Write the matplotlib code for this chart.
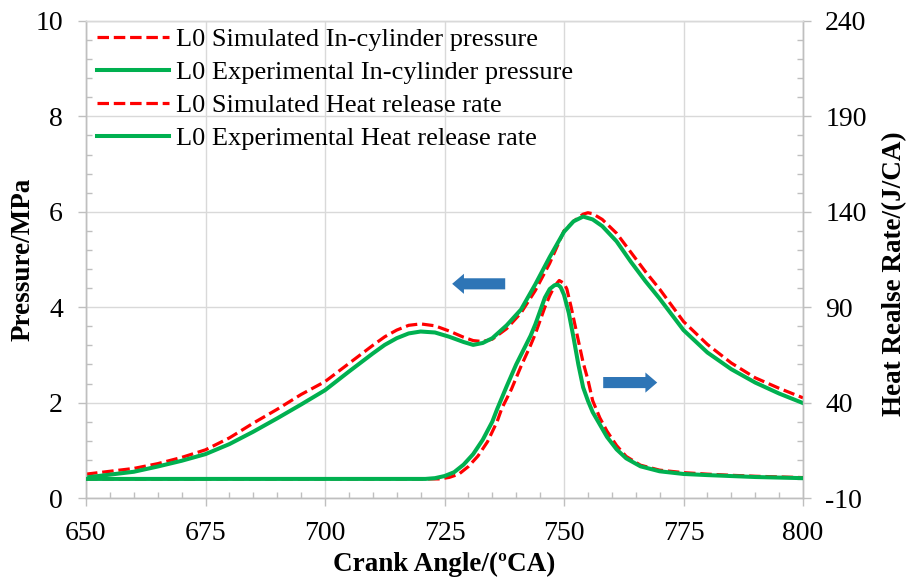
import matplotlib
matplotlib.use("Agg")
import matplotlib.pyplot as plt
from matplotlib.ticker import MultipleLocator, FixedLocator
from matplotlib.patches import FancyArrowPatch
from matplotlib.lines import Line2D

plt.rcParams['font.family'] = ['Liberation Serif', 'DejaVu Serif']
plt.rcParams['axes.unicode_minus'] = False

# ---------------- data ----------------
ca_p_exp = [650, 655, 660, 665, 670, 675, 680, 685, 690, 695, 700, 705, 710, 712.5, 715, 717.5, 720,
            723, 726, 729, 731, 733, 735, 738, 741, 744, 747, 750, 752, 754, 756, 758,
            761, 764, 767, 770, 775, 780, 785, 790, 795, 800]
p_exp = [0.43, 0.49, 0.55, 0.66, 0.78, 0.92, 1.13, 1.39, 1.67, 1.96, 2.26, 2.65, 3.03, 3.21, 3.35, 3.45, 3.49,
         3.47, 3.38, 3.27, 3.21, 3.25, 3.35, 3.62, 3.95, 4.48, 5.05, 5.58, 5.80, 5.90, 5.84, 5.70,
         5.38, 4.95, 4.55, 4.18, 3.52, 3.05, 2.70, 2.42, 2.19, 1.99]

ca_p_sim = [650, 655, 660, 665, 670, 675, 680, 685, 690, 695, 700, 705, 710, 712.5, 715, 717.5, 720,
            723, 726, 729, 731, 733, 735, 738, 741, 744, 747, 750, 752, 754, 755, 756, 758,
            761, 764, 767, 770, 775, 780, 785, 790, 795, 800]
p_sim = [0.50, 0.56, 0.62, 0.72, 0.85, 1.01, 1.26, 1.57, 1.86, 2.17, 2.44, 2.82, 3.20, 3.38, 3.52, 3.62, 3.65,
         3.61, 3.50, 3.37, 3.30, 3.28, 3.33, 3.55, 3.88, 4.35, 4.92, 5.60, 5.80, 5.95, 5.98, 5.96, 5.84,
         5.55, 5.15, 4.75, 4.38, 3.70, 3.22, 2.83, 2.52, 2.30, 2.10]

ca_h_exp = [650, 700, 721, 723, 725, 727, 729, 731, 733, 735, 736, 738, 740, 742, 743, 744, 745,
            746, 747, 748, 748.7, 749.3, 750, 751, 752, 753, 754, 755, 756, 757.5, 759, 761,
            763, 766, 770, 775, 780, 785, 790, 800]
h_exp = [0, 0, 0, 0.4, 1.5, 3.5, 7.5, 13, 20.5, 30, 36.5, 48.5, 60, 70, 75, 81, 88,
         95, 99.5, 101.5, 101.8, 100.5, 96.5, 87, 74, 60, 48, 41, 35, 28.5, 22, 15.5,
         10.8, 6.6, 4.0, 2.6, 2.0, 1.5, 1.0, 0.4]

ca_h_sim = [650, 700, 724, 726, 728, 730, 732, 734, 736, 737, 739, 741, 743, 744, 745, 746,
            747, 748, 749, 750, 750.6, 751.5, 752.7, 754, 755, 756, 757.5, 759, 761, 763,
            766, 770, 775, 780, 785, 790, 800]
h_sim = [0, 0, 0, 0.8, 2.5, 6.5, 12, 19.5, 30, 37, 47, 59, 70, 76, 83, 90,
         96, 101, 104, 102.5, 99.5, 90, 76, 61, 52, 41, 32, 25, 17.5, 11.8,
         7.2, 4.6, 3.3, 2.5, 1.9, 1.4, 0.7]

hrr_ticks = [-10, 40, 90, 140, 190, 240]

labels = ["L0 Simulated In-cylinder pressure",
          "L0 Experimental In-cylinder pressure",
          "L0 Simulated Heat release rate",
          "L0 Experimental Heat release rate"]

# ---------------- style ----------------
RED = '#FF0000'
GREEN = '#00B050'
BLUE = '#2E75B6'
GRID = '#D9D9D9'
AXC = '#BFBFBF'
FS = 20

fig = plt.figure(figsize=(9.06, 5.78), dpi=100)
ax = fig.add_axes([86/906, 1 - 498/578, (803-86)/906, (498-21)/578])
ax2 = ax.twinx()

dash = (3.6, 1.5)
ax.plot(ca_p_sim, p_sim, color=RED, lw=2.3, dashes=dash, zorder=3)
ax.plot(ca_p_exp, p_exp, color=GREEN, lw=2.9, zorder=4)
ax2.plot(ca_h_sim, h_sim, color=RED, lw=2.3, dashes=dash, zorder=3)
ax2.plot(ca_h_exp, h_exp, color=GREEN, lw=2.9, zorder=4)

ax.set_xlim(650, 800)
ax.set_ylim(0, 10)
ax2.set_ylim(-10, 240)

ax.xaxis.set_major_locator(MultipleLocator(25))
ax.xaxis.set_minor_locator(MultipleLocator(5))
ax.yaxis.set_major_locator(MultipleLocator(2))
ax.yaxis.set_minor_locator(MultipleLocator(0.4))
ax2.yaxis.set_major_locator(FixedLocator(hrr_ticks))
ax2.yaxis.set_minor_locator(MultipleLocator(10))

ax.grid(True, which='major', color=GRID, lw=1.0, zorder=0)
ax.set_axisbelow(True)

for a in (ax, ax2):
    for s in a.spines.values():
        s.set_color(AXC)
        s.set_linewidth(1.0)
    a.spines['top'].set_color(GRID)

ax.tick_params(axis='x', which='major', direction='out', length=6, width=1, color=AXC,
               labelsize=FS, labelcolor='black', pad=10.5)
ax.tick_params(axis='y', which='major', direction='out', length=6, width=1, color=AXC,
               labelsize=FS, labelcolor='black', pad=10.5)
ax.tick_params(which='minor', direction='in', length=4, width=1, color=AXC)
ax2.tick_params(which='major', direction='out', length=6, width=1, color=AXC,
                labelsize=FS, labelcolor='black', pad=10)
ax2.tick_params(which='minor', direction='in', length=4, width=1, color=AXC)

LFS = 19.5
ax.set_xlabel("Crank Angle/(ºCA)", fontsize=LFS, fontweight='bold')
ax.set_ylabel("Pressure/MPa", fontsize=LFS, fontweight='bold')
ax2.set_ylabel("Heat Realse Rate/(J/CA)", fontsize=LFS, fontweight='bold', rotation=90)
ax.xaxis.set_label_coords(0.5, -0.1135)
ax.yaxis.set_label_coords(-0.071, 0.5)
ax2.yaxis.set_label_coords(1.110, 0.47)

# arrows
arr_style = "simple,head_width=14.5,head_length=8.5,tail_width=8"
a1 = FancyArrowPatch((737.7, 4.49), (726.6, 4.49), arrowstyle=arr_style,
                     color=BLUE, lw=0, shrinkA=0, shrinkB=0, zorder=5)
a2 = FancyArrowPatch((758.2, 2.42), (769.5, 2.42), arrowstyle=arr_style,
                     color=BLUE, lw=0, shrinkA=0, shrinkB=0, zorder=5)
ax.add_patch(a1)
ax.add_patch(a2)

handles = [Line2D([], [], color=RED, lw=2.3, dashes=dash),
           Line2D([], [], color=GREEN, lw=2.9),
           Line2D([], [], color=RED, lw=2.3, dashes=dash),
           Line2D([], [], color=GREEN, lw=2.9)]
leg = ax2.legend(handles, labels, loc='upper left', frameon=False, fontsize=19,
                 handlelength=2.7, handletextpad=0.3, labelspacing=0.36,
                 borderaxespad=0.0, bbox_to_anchor=(0.001, 1.008))

fig.savefig("out.png", dpi=100)
